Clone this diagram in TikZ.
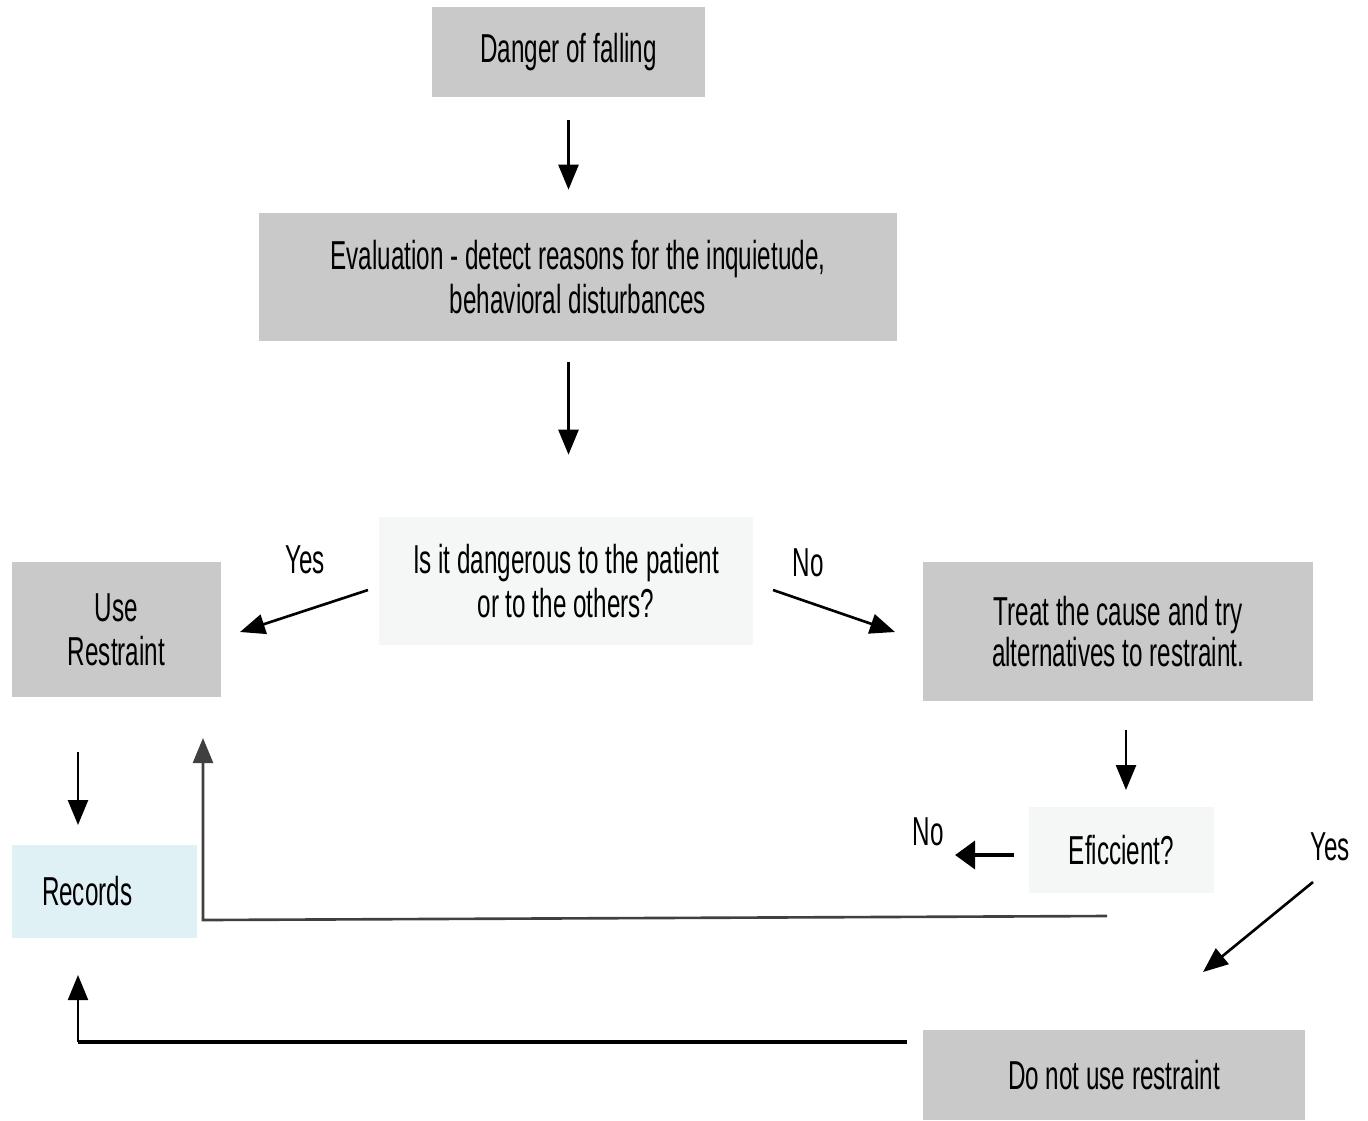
\documentclass[tikz,border=0pt]{standalone}
\usepackage{fontspec}
\setmainfont[FakeStretch=0.6]{Liberation Sans}
\usetikzlibrary{arrows.meta}
\definecolor{boxgray}{HTML}{C9C9C9}
\definecolor{boxpale}{HTML}{F5F7F6}
\definecolor{boxblue}{HTML}{E0F1F6}

\begin{document}
\begin{tikzpicture}[x=0.02cm,y=-0.02cm,
	txt/.style={inner sep=0pt,align=center,font=\fontsize{23}{25}\selectfont},
	graybox/.style={txt,fill=boxgray},
	palebox/.style={txt,fill=boxpale},
	arr/.style={-{Triangle[length=0.5cm,width=0.4cm]},line width=1.5pt}]
	%    \draw[step=100,gray,very thin] (0,0) grid (1368,1120);
	\useasboundingbox (0,0) rectangle (1368,1120);
	
	\node[graybox,minimum width=5.46cm,minimum height=1.8cm] (danger) at (568.5,52) {Danger of falling};
	\node[graybox,minimum width=12.76cm,minimum height=2.56cm] (eval) at (578,277) {Evaluation - detect reasons for the inquietude,\\behavioral disturbances};
	\node[palebox,minimum width=7.48cm,minimum height=2.56cm] (quest) at (566,581) {Is it dangerous to the patient\\or to the others?};
	\node[graybox,minimum width=4.18cm,minimum height=2.7cm] (use) at (116.5,629.5) {Use\\Restraint};
	\node[graybox,minimum width=7.8cm,minimum height=2.78cm,font=\fontsize{23}{23}\selectfont] (treat) at (1118,631.5) {Treat the cause and try\\alternatives to restraint.};
	\node[palebox,minimum width=3.7cm,minimum height=1.72cm] (effic) at (1121.5,850) {Eficcient?};
	\node[txt,fill=boxblue,minimum height=1.86cm,text width=2.5cm,inner xsep=0.6cm,align=left] (rec) at (104.5,891.5) {Records};
	\node[graybox,minimum width=7.64cm,minimum height=1.8cm] (donot) at (1114,1075) {Do not use restraint};
	
	\node[txt] (yes1) at (305,560) {Yes};
	\node[txt] (no1) at (808,563) {No};
	\node[txt] (no2) at (928,832) {No};
	\node[txt] (yes2) at (1330,847) {Yes};
	
	\coordinate (yesA) at (368,590);
	\coordinate (yesB) at (240,632);
	\coordinate (noA) at (773,590);
	\coordinate (noB) at (895,632);
	\coordinate (trA) at (1126,730);
	\coordinate (trB) at (1126,790);
	\coordinate (efA) at (1014,855);
	\coordinate (efB) at (955,855);
	\coordinate (okA) at (1313,882);
	\coordinate (okB) at (1203,972);
	\coordinate (loopA) at (1107,916);
	\coordinate (loopB) at (203,920);
	\coordinate (loopC) at (203,738);
	\coordinate (recA) at (78,752);
	\coordinate (recB) at (78,825);
	\coordinate (botA) at (907,1042);
	\coordinate (botB) at (78,1042);
	\coordinate (botC) at (78,975);
	
	\draw [arr,shorten <=0.46cm,shorten >=0.46cm] (danger.south) -- (danger.south |- eval.north);
	\draw [arr,shorten <=0.42cm,shorten >=1.24cm] (danger.south |- eval.south) -- (danger.south |- quest.north);
	\draw [arr] (yesA) -- (yesB);
	\draw [arr] (noA) -- (noB);
	\draw [arr] (trA) -- (trB);
	\draw [arr,line width=2.8pt,-{Triangle[length=0.4cm,width=0.55cm]}] (efA) -- (efB);
	\draw [arr] (okA) -- (okB);
	\draw [arr,black!75] (loopA) -- (loopB) -- (loopC);
	\draw [arr] (recA) -- (recB);
	\draw [line width=2.4pt] (botA) -- (botB);
	\draw [arr,line width=1.2pt] (botB) -- (botC);
	
\end{tikzpicture}
\end{document}
